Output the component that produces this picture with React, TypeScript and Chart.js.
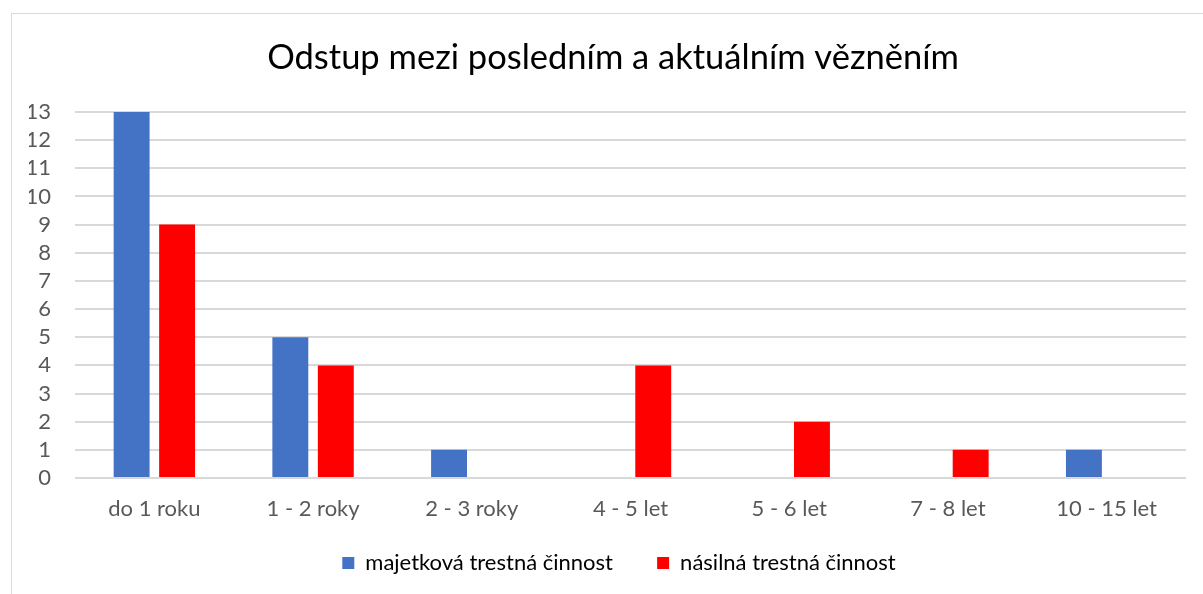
import React, { useEffect, useRef } from "react";
import { Chart, registerables } from "chart.js";

Chart.register(...registerables);

const TITLE = "Odstup mezi posledním a aktuálním vězněním";
const CATEGORIES = ["do 1 roku", "1 - 2 roky", "2 - 3 roky", "4 - 5 let", "5 - 6 let", "7 - 8 let", "10 - 15 let"];
const SERIES_NAMES = ["majetková trestná činnost", "násilná trestná činnost"];
const PROPERTY_VALUES = [13, 5, 1, 0, 0, 0, 1];
const VIOLENT_VALUES = [9, 4, 0, 4, 2, 1, 0];
const COLORS = ["#4472C4", "#FF0000"];
const Y_MAX = 13;

const FONT = "Lato, 'Open Sans', sans-serif";

const borderPlugin = {
  id: "outerBorder",
  beforeDraw(chart: any) {
    const ctx = chart.ctx;
    ctx.save();
    ctx.fillStyle = "#ffffff";
    ctx.fillRect(0, 0, chart.width, chart.height);
    ctx.strokeStyle = "#d9d9d9";
    ctx.lineWidth = 1;
    ctx.strokeRect(11.5, 13.5, chart.width + 10, chart.height + 10);
    ctx.restore();
  },
};

const legendShiftPlugin = {
  id: "legendShift",
  afterLayout(chart: any) {
    if (chart.legend) {
      chart.legend.left += 6;
      chart.legend.right += 6;
    }
  },
};

export default function App() {
  const ref = useRef<HTMLCanvasElement | null>(null);

  useEffect(() => {
    document.body.style.margin = "0";
    const canvas = ref.current;
    if (!canvas) return;
    const chart = new Chart(canvas, {
      type: "bar",
      data: {
        labels: CATEGORIES,
        datasets: [
          {
            label: SERIES_NAMES[0],
            data: PROPERTY_VALUES,
            backgroundColor: COLORS[0],
            categoryPercentage: 0.573,
            barPercentage: 0.79,
          },
          {
            label: SERIES_NAMES[1],
            data: VIOLENT_VALUES,
            backgroundColor: COLORS[1],
            categoryPercentage: 0.573,
            barPercentage: 0.79,
          },
        ],
      },
      options: {
        animation: false,
        responsive: false,
        maintainAspectRatio: false,
        layout: { padding: { top: 15.6, left: 29, right: 6, bottom: 10 } },
        plugins: {
          title: {
            display: true,
            text: TITLE,
            color: "#000000",
            font: { family: FONT, size: 34.5, weight: "normal", lineHeight: 1.2 },
            padding: { top: 21.5, bottom: 33.5 },
          },
          legend: {
            position: "bottom",
            labels: {
              boxWidth: 12,
              boxHeight: 12,
              padding: 16,
              color: "#595959",
              font: { family: FONT, size: 22 },
              generateLabels: (chart: any) =>
                chart.data.datasets.map((ds: any, i: number) => ({
                  text: i === 0 ? ds.label + "     " : ds.label,
                  fillStyle: ds.backgroundColor,
                  strokeStyle: ds.backgroundColor,
                  lineWidth: 0,
                  datasetIndex: i,
                  hidden: false,
                })),
            },
          },
          tooltip: { enabled: false },
        },
        scales: {
          x: {
            grid: { display: false, drawTicks: false },
            border: { display: false },
            ticks: {
              color: "#595959",
              font: { family: FONT, size: 22 },
              padding: 17.5,
              maxRotation: 0,
            },
            afterFit: (scale: any) => {
              scale.height = 58;
            },
          },
          y: {
            min: 0,
            max: Y_MAX,
            grid: { color: "#d9d9d9", lineWidth: 2, drawTicks: false },
            border: { display: false },
            ticks: {
              stepSize: 1,
              autoSkip: false,
              color: "#595959",
              font: { family: FONT, size: 22 },
              padding: 24,
            },
            afterFit: (scale: any) => {
              scale.width = 46;
            },
          },
          yRight: {
            position: "right",
            min: 0,
            max: Y_MAX,
            grid: { display: false, drawTicks: false },
            border: { display: false },
            ticks: { display: false },
            afterFit: (scale: any) => {
              scale.width = 11;
            },
          },
        },
      },
      plugins: [borderPlugin, legendShiftPlugin],
    });
    return () => chart.destroy();
  }, []);

  return (
    <div style={{ width: 1203, height: 594 }}>
      <canvas ref={ref} width={1203} height={594} style={{ display: "block" }} />
    </div>
  );
}
